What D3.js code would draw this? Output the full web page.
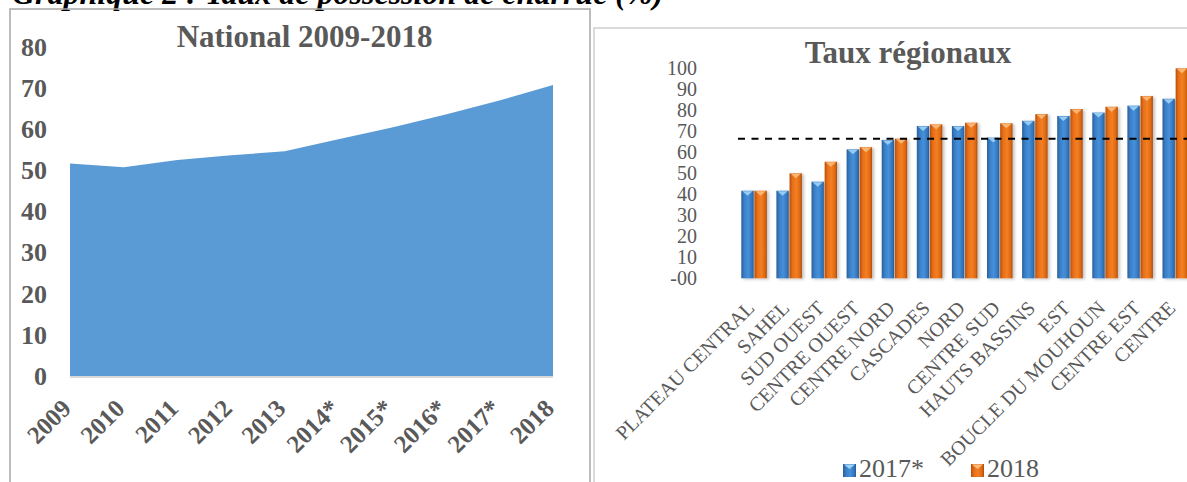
<!DOCTYPE html>
<html>
<head>
<meta charset="utf-8">
<script src="https://cdn.jsdelivr.net/npm/d3@7"></script>
<style>
  html, body { margin: 0; padding: 0; background: #fff; }
  svg { display: block; }
  text { font-family: "Liberation Serif", "Times New Roman", serif; }
</style>
</head>
<body>
<svg id="chart" width="1187" height="482"></svg>
<script>
// national series
const NATIONAL_YEARS = ["2009", "2010", "2011", "2012", "2013", "2014*", "2015*", "2016*", "2017*", "2018"]
const NATIONAL_RATES = [51.6, 50.7, 52.5, 53.6, 54.6, 57.5, 60.4, 63.5, 66.9, 70.7]
const NATIONAL_TICKS = [0, 10, 20, 30, 40, 50, 60, 70, 80]

// regional series
const REGIONS = ["PLATEAU CENTRAL", "SAHEL", "SUD OUEST", "CENTRE OUEST", "CENTRE NORD", "CASCADES", "NORD",
    "CENTRE SUD", "HAUTS BASSINS", "EST", "BOUCLE DU MOUHOUN", "CENTRE EST", "CENTRE"]
const SERIES = ["2017*", "2018"]
const RATES_2017 = [41.7, 41.7, 46, 61.4, 65.9, 72.5, 72.5, 67, 75, 77.3, 78.9, 82.2, 85.5]
const RATES_2018 = [41.7, 50, 55.5, 62.4, 66.5, 73.3, 74.1, 73.8, 78.2, 80.6, 81.7, 86.8, 100]
const REGIONAL_TICKS = [0, 10, 20, 30, 40, 50, 60, 70, 80, 90, 100]
const NATIONAL_REFERENCE = 66.4

const TEXT_COLOR = "#595959"
const AREA_COLOR = "#5b9bd5"

const svg = d3.select("#chart")
const defs = svg.append("defs")

// bar gradients
const GRADIENTS = {
    "2017*": [["0%", "#2a5f98"], ["25%", "#3a80c9"], ["55%", "#4690da"], ["85%", "#3476bd"], ["100%", "#285a90"]],
    "2018": [["0%", "#b84f0b"], ["25%", "#e8701a"], ["55%", "#f47f22"], ["85%", "#dc6812"], ["100%", "#a9490a"]]
}
const CAP_COLORS = {"2017*": "#9fd3f5", "2018": "#fbbd7d"}
const GRADIENT_IDS = {"2017*": "grad2017", "2018": "grad2018"}

for (const key of SERIES) {
    const g = defs.append("linearGradient").attr("id", GRADIENT_IDS[key])
        .attr("x1", "0%").attr("x2", "100%").attr("y1", "0%").attr("y2", "0%")
    for (const [offset, color] of GRADIENTS[key]) {
        g.append("stop").attr("offset", offset).attr("stop-color", color)
    }
}

const shadow = defs.append("filter").attr("id", "barShadow")
    .attr("x", "-30%").attr("y", "-10%").attr("width", "170%").attr("height", "130%")
shadow.append("feDropShadow").attr("dx", 2).attr("dy", 1).attr("stdDeviation", 1.5)
    .attr("flood-color", "#000").attr("flood-opacity", 0.25)

// header (cut off at the top, as in the source page)
svg.append("text")
    .attr("x", 12).attr("y", 3.5)
    .attr("font-size", 32).attr("font-weight", "bold").attr("font-style", "italic")
    .attr("fill", "#000")
    .text("Graphique 2 : Taux de possession de charrue (%)")

// panel frames
svg.append("rect").attr("x", 10).attr("y", 9).attr("width", 580).attr("height", 500)
    .attr("fill", "none").attr("stroke", "#a6a6a6").attr("stroke-width", 1.5)
svg.append("rect").attr("x", 594).attr("y", 28).attr("width", 620).attr("height", 480)
    .attr("fill", "none").attr("stroke", "#d0d0d0").attr("stroke-width", 1.5)

// ---------- National area chart ----------
const xNat = d3.scalePoint().domain(NATIONAL_YEARS).range([70, 553])
const yNat = d3.scaleLinear().domain([0, 80]).range([376, 46.7])

svg.append("text")
    .attr("x", 304.5).attr("y", 46.7)
    .attr("text-anchor", "middle")
    .attr("font-size", 31).attr("font-weight", "bold").attr("fill", TEXT_COLOR)
    .text("National 2009-2018")

const natData = NATIONAL_YEARS.map((year, i) => ({year: year, rate: NATIONAL_RATES[i]}))

svg.append("path")
    .datum(natData)
    .attr("fill", AREA_COLOR)
    .attr("d", d3.area()
        .x(d => xNat(d.year))
        .y0(yNat(0))
        .y1(d => yNat(d.rate)))

svg.append("line")
    .attr("x1", xNat(NATIONAL_YEARS[0])).attr("x2", xNat(NATIONAL_YEARS[NATIONAL_YEARS.length - 1]))
    .attr("y1", yNat(0) + 1).attr("y2", yNat(0) + 1)
    .attr("stroke", "#d9d9d9").attr("stroke-width", 2)

const natYAxis = svg.append("g")
    .attr("transform", "translate(70,0)")
    .call(d3.axisLeft(yNat).tickValues(NATIONAL_TICKS).tickSize(0).tickPadding(23))
natYAxis.select(".domain").remove()
natYAxis.selectAll("text")
    .attr("font-family", "Liberation Serif, Times New Roman, serif")
    .attr("font-size", 26).attr("font-weight", "bold").attr("fill", TEXT_COLOR)

const natXAxis = svg.append("g")
    .attr("transform", `translate(0,${yNat(0)})`)
    .call(d3.axisBottom(xNat).tickSize(0))
natXAxis.select(".domain").remove()
natXAxis.selectAll("text")
    .attr("x", 0).attr("y", 0).attr("dy", 0)
    .attr("text-anchor", "end")
    .attr("transform", "translate(2,34) rotate(-45)")
    .attr("font-family", "Liberation Serif, Times New Roman, serif")
    .attr("font-size", 25).attr("font-weight", "bold").attr("fill", TEXT_COLOR)

// ---------- Regional bar chart ----------
const x0 = d3.scaleBand().domain(REGIONS).range([736.5, 1192.8])
const x1 = d3.scaleBand().domain(SERIES).range([0, 25.5]).paddingInner(0.06)
const groupOffset = (x0.bandwidth() - 25.5) / 2
const yReg = d3.scaleLinear().domain([0, 100]).range([278.3, 68.3])

svg.append("text")
    .attr("x", 908).attr("y", 63.3)
    .attr("text-anchor", "middle")
    .attr("font-size", 31).attr("font-weight", "bold").attr("fill", TEXT_COLOR)
    .text("Taux régionaux")

const regYAxis = svg.append("g")
    .attr("transform", "translate(736.5,0)")
    .call(d3.axisLeft(yReg).tickValues(REGIONAL_TICKS).tickSize(0).tickPadding(39.5)
        .tickFormat(d => d === 0 ? "-00" : d))
regYAxis.select(".domain").remove()
regYAxis.selectAll("text")
    .attr("font-family", "Liberation Serif, Times New Roman, serif")
    .attr("font-size", 20).attr("fill", TEXT_COLOR)

// axis base line
svg.append("line")
    .attr("x1", 736.5).attr("x2", 1187)
    .attr("y1", yReg(0) + 1.5).attr("y2", yReg(0) + 1.5)
    .attr("stroke", "#d9d9d9").attr("stroke-width", 3)
    .attr("filter", "url(#barShadow)")

const regData = REGIONS.map((region, i) => ({
    region: region,
    values: [{key: "2017*", rate: RATES_2017[i]}, {key: "2018", rate: RATES_2018[i]}]
}))

const groups = svg.append("g").selectAll("g")
    .data(regData)
    .join("g")
    .attr("transform", d => `translate(${x0(d.region) + groupOffset},0)`)

const bars = groups.selectAll("g")
    .data(d => d.values)
    .join("g")

bars.append("rect")
    .attr("x", d => x1(d.key))
    .attr("y", d => yReg(d.rate))
    .attr("width", x1.bandwidth())
    .attr("height", d => yReg(0) - yReg(d.rate))
    .attr("fill", d => `url(#${GRADIENT_IDS[d.key]})`)
    .attr("filter", "url(#barShadow)")

// light bevel on top of each bar
bars.append("path")
    .attr("d", d => {
        const left = x1(d.key), w = x1.bandwidth(), top = yReg(d.rate)
        return `M${left + 1},${top + 0.5} L${left + w - 1},${top + 0.5} L${left + w / 2},${top + 5} Z`
    })
    .attr("fill", d => CAP_COLORS[d.key])
    .attr("opacity", 0.9)

const regXAxis = svg.append("g")
    .attr("transform", `translate(0,${yReg(0)})`)
    .call(d3.axisBottom(x0).tickSize(0))
regXAxis.select(".domain").remove()
regXAxis.selectAll("text")
    .attr("x", 0).attr("y", 0).attr("dy", 0)
    .attr("text-anchor", "end")
    .attr("transform", "translate(1.5,31) rotate(-45)")
    .attr("font-family", "Liberation Serif, Times New Roman, serif")
    .attr("font-size", 20).attr("fill", TEXT_COLOR)

// national reference line
svg.append("line")
    .attr("x1", 738).attr("x2", 1187)
    .attr("y1", yReg(NATIONAL_REFERENCE)).attr("y2", yReg(NATIONAL_REFERENCE))
    .attr("stroke", "#000").attr("stroke-width", 2)
    .attr("stroke-dasharray", "7,6.5")

// legend
const LEGEND_X = [843, 971]
const legend = svg.append("g").selectAll("g")
    .data(SERIES)
    .join("g")
    .attr("transform", (d, i) => `translate(${LEGEND_X[i]},464)`)
legend.append("rect")
    .attr("width", 13).attr("height", 13)
    .attr("fill", d => `url(#${GRADIENT_IDS[d]})`)
legend.append("path")
    .attr("d", "M1,0.5 L12,0.5 L6.5,5 Z")
    .attr("fill", d => CAP_COLORS[d])
legend.append("text")
    .attr("x", 16).attr("y", 13)
    .attr("font-size", 26).attr("fill", TEXT_COLOR)
    .text(d => d)
</script>
</body>
</html>
